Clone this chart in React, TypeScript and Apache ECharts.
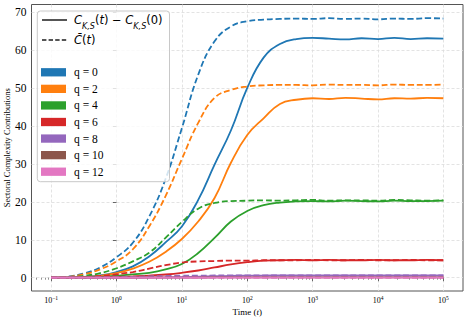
import React, { useEffect, useRef } from 'react';
import * as echarts from 'echarts';

// log10(t) sample positions
const logT = [-1, -0.75, -0.5, -0.25, 0, 0.25, 0.5, 0.75, 1, 1.25, 1.5, 1.75, 2, 2.25, 2.5, 2.75, 3, 3.25, 3.5, 3.75, 4, 4.25, 4.5, 4.75, 5];

// C_{K,S}(t) - C_{K,S}(0)  (solid)
const q0Solid = [0, 0.05, 0.2, 0.6, 1.5, 3.0, 5.6, 9.3, 13.5, 20.5, 29.8, 38.8, 50.0, 58.0, 61.6, 62.9, 63.2, 63.0, 62.8, 63.1, 62.9, 63.2, 62.9, 63.1, 63.0];
const q2Solid = [0, 0.05, 0.15, 0.5, 1.2, 2.4, 4.2, 6.8, 10.2, 14.8, 21.0, 30.3, 37.6, 42.0, 45.8, 46.9, 47.3, 47.1, 47.4, 47.2, 47.0, 47.3, 47.2, 47.4, 47.3];
const q4Solid = [0, 0.02, 0.05, 0.2, 0.5, 0.9, 1.3, 2.2, 3.6, 6.5, 10.5, 14.8, 17.6, 19.1, 19.8, 20.1, 20.2, 20.1, 20.3, 20.2, 20.1, 20.3, 20.2, 20.2, 20.3];
const q6Solid = [0, 0, 0.02, 0.08, 0.2, 0.35, 0.55, 0.85, 1.3, 1.9, 2.7, 3.5, 4.1, 4.5, 4.6, 4.7, 4.6, 4.7, 4.6, 4.6, 4.7, 4.6, 4.6, 4.7, 4.6];
const q8Solid = [0, 0, 0, 0.01, 0.02, 0.04, 0.07, 0.12, 0.2, 0.3, 0.4, 0.48, 0.54, 0.57, 0.58, 0.58, 0.59, 0.58, 0.58, 0.59, 0.58, 0.58, 0.59, 0.58, 0.58];
const q10Solid = [0, 0, 0, 0, 0, 0.01, 0.01, 0.02, 0.03, 0.05, 0.07, 0.08, 0.09, 0.1, 0.1, 0.1, 0.1, 0.1, 0.1, 0.1, 0.1, 0.1, 0.1, 0.1, 0.1];
const q12Solid = [0, 0, 0, 0, 0, 0, 0, 0, 0.01, 0.01, 0.01, 0.02, 0.02, 0.02, 0.02, 0.02, 0.02, 0.02, 0.02, 0.02, 0.02, 0.02, 0.02, 0.02, 0.02];

// C-bar(t)  (dashed)
const q0Dashed = [0, 0.3, 1.1, 2.7, 5.4, 9.2, 16.1, 26.0, 39.4, 53.5, 62.3, 66.2, 67.6, 68.0, 68.2, 68.3, 68.2, 68.4, 68.2, 68.3, 68.1, 68.3, 68.2, 68.4, 68.3];
const q2Dashed = [0, 0.2, 0.9, 2.2, 4.3, 7.5, 13.5, 21.5, 31.3, 40.8, 47.4, 49.5, 50.4, 50.7, 50.8, 50.8, 50.7, 50.9, 50.8, 50.8, 50.7, 50.9, 50.8, 50.8, 50.9];
const q4Dashed = [0, 0.1, 0.5, 1.2, 2.5, 4.3, 6.6, 10.5, 14.7, 18.2, 19.7, 20.2, 20.3, 20.4, 20.3, 20.4, 20.5, 20.3, 20.4, 20.4, 20.3, 20.5, 20.4, 20.3, 20.4];
const q6Dashed = [0, 0.05, 0.2, 0.45, 0.9, 1.5, 2.4, 3.3, 4.0, 4.3, 4.4, 4.5, 4.5, 4.6, 4.6, 4.6, 4.7, 4.6, 4.6, 4.7, 4.6, 4.6, 4.7, 4.6, 4.6];
const q8Dashed = [0, 0.01, 0.03, 0.07, 0.14, 0.24, 0.35, 0.45, 0.52, 0.56, 0.58, 0.59, 0.59, 0.59, 0.6, 0.59, 0.59, 0.6, 0.59, 0.59, 0.6, 0.59, 0.59, 0.6, 0.59];
const q10Dashed = [0, 0, 0.01, 0.02, 0.03, 0.05, 0.07, 0.08, 0.09, 0.1, 0.1, 0.1, 0.1, 0.1, 0.1, 0.1, 0.1, 0.1, 0.1, 0.1, 0.1, 0.1, 0.1, 0.1, 0.1];
const q12Dashed = [0, 0, 0, 0, 0.01, 0.01, 0.01, 0.02, 0.02, 0.02, 0.02, 0.02, 0.02, 0.02, 0.02, 0.02, 0.02, 0.02, 0.02, 0.02, 0.02, 0.02, 0.02, 0.02, 0.02];

const qLabels = ['q = 0', 'q = 2', 'q = 4', 'q = 6', 'q = 8', 'q = 10', 'q = 12'];
const solidSeries = [q0Solid, q2Solid, q4Solid, q6Solid, q8Solid, q10Solid, q12Solid];
const dashedSeries = [q0Dashed, q2Dashed, q4Dashed, q6Dashed, q8Dashed, q10Dashed, q12Dashed];
const colors = ['#1f77b4', '#ff7f0e', '#2ca02c', '#d62728', '#9467bd', '#8c564b', '#e377c2'];

const xMajorTicks = [-1, 0, 1, 2, 3, 4, 5];
const yTicks = [0, 10, 20, 30, 40, 50, 60, 70];
const minorDecades = [-2, -1, 0, 1, 2, 3, 4, 5];
const minorMults = [2, 3, 4, 5, 6, 7, 8, 9];

const X_MIN = -1.3;
const X_MAX = 5.3;
const Y_MIN = -3.5;
const Y_MAX = 72;

const SERIF = 'Liberation Serif';
const MATH = 'DejaVu Sans';

export default function App() {
  const ref = useRef<HTMLDivElement>(null);

  useEffect(() => {
    if (!ref.current) return;
    const chart = echarts.init(ref.current, undefined, { renderer: 'svg' });

    const minorTicks: number[] = [];
    minorDecades.forEach((d) =>
      minorMults.forEach((m) => {
        const v = d + Math.log10(m);
        if (v > X_MIN && v < X_MAX) minorTicks.push(v);
      })
    );

    const gridPos = { left: 31.5, right: 5, top: 4.5, bottom: 31, containLabel: false, outerBoundsMode: 'none' };
    const gridLine = { color: '#dcdcdc', width: 0.8, type: [3, 2] as number[] };

    const series: any[] = [];
    solidSeries.forEach((vals, i) => {
      series.push({
        type: 'line',
        name: qLabels[i],
        data: logT.map((x, j) => [x, vals[j]]),
        symbol: 'none',
        smooth: 0.45,
        color: colors[i],
        lineStyle: { width: 1.8, color: colors[i] },
        z: 2,
      });
      series.push({
        type: 'line',
        name: qLabels[i],
        data: logT.map((x, j) => [x, dashedSeries[i][j]]),
        symbol: 'none',
        smooth: 0.45,
        color: colors[i],
        lineStyle: { width: 1.8, color: colors[i], type: [6, 2.8] },
        z: 2,
      });
    });
    series.push({
      type: 'line',
      name: 'solidKey',
      data: [],
      symbol: 'none',
      color: '#555',
      lineStyle: { width: 1.2, color: '#555' },
    });
    series.push({
      type: 'line',
      name: 'dashKey',
      data: [],
      symbol: 'none',
      color: '#555',
      lineStyle: { width: 1.2, color: '#555', type: [4.4, 2.2] },
    });

    const mathRich = {
      i: { fontFamily: MATH, fontStyle: 'italic', fontSize: 11.5, color: '#000', lineHeight: 20 },
      n: { fontFamily: MATH, fontSize: 11.5, color: '#000', lineHeight: 20 },
      s: { fontFamily: MATH, fontStyle: 'italic', fontSize: 8, color: '#000', lineHeight: 14, verticalAlign: 'bottom' },
    };

    chart.setOption({
      animation: false,
      backgroundColor: '#fff',
      grid: [
        { ...gridPos, show: true, borderColor: '#555', borderWidth: 1, backgroundColor: '#fff' },
        { ...gridPos, show: false },
      ],
      xAxis: [
        {
          type: 'value',
          gridIndex: 0,
          min: X_MIN,
          max: X_MAX,
          axisLine: { show: false },
          axisTick: { show: true, customValues: xMajorTicks, length: 3.5, lineStyle: { color: '#444', width: 0.8 } },
          axisLabel: {
            customValues: xMajorTicks,
            margin: 4,
            formatter: (v: number) => `{b|10}{s|${v < 0 ? '\u2212' : ''}${Math.abs(Math.round(v))}}`,
            rich: {
              b: { fontFamily: SERIF, fontSize: 8, color: '#000', lineHeight: 10 },
              s: { fontFamily: SERIF, fontSize: 5.5, color: '#000', lineHeight: 6, verticalAlign: 'top' },
            },
          },
          splitLine: { show: true, lineStyle: gridLine },
          name: '{n|Time (}{i|t}{n|)}',
          nameLocation: 'middle',
          nameGap: 16,
          nameMoveOverlap: false,
          nameTextStyle: {
            rich: {
              n: { fontFamily: SERIF, fontSize: 9, color: '#000' },
              i: { fontFamily: SERIF, fontSize: 9, fontStyle: 'italic', color: '#000' },
            },
          },
        },
        {
          type: 'value',
          gridIndex: 1,
          min: X_MIN,
          max: X_MAX,
          axisLine: { show: false },
          axisTick: { show: true, customValues: minorTicks, length: 2, lineStyle: { color: '#444', width: 0.6 } },
          axisLabel: { show: false },
          splitLine: { show: false },
        },
      ],
      yAxis: [
        {
          type: 'value',
          gridIndex: 0,
          min: Y_MIN,
          max: Y_MAX,
          axisLine: { show: false },
          axisTick: { show: true, customValues: yTicks, length: 3.5, lineStyle: { color: '#444', width: 0.8 } },
          axisLabel: { customValues: yTicks, margin: 5, fontFamily: SERIF, fontSize: 11.5, color: '#000' },
          splitLine: { show: true, lineStyle: gridLine },
          name: 'Sectoral Complexity Contributions',
          nameLocation: 'middle',
          nameGap: 20,
          nameMoveOverlap: false,
          nameTextStyle: { fontFamily: SERIF, fontSize: 8.5, color: '#000' },
        },
        {
          type: 'value',
          gridIndex: 1,
          min: Y_MIN,
          max: Y_MAX,
          show: false,
        },
      ],
      legend: [
        {
          data: qLabels.map((n) => ({ name: n, icon: 'rect' })),
          orient: 'vertical',
          left: 37.3,
          top: 11,
          padding: [53, 66, 1.7, 3.7],
          backgroundColor: 'rgba(255,255,255,0.8)',
          borderColor: '#c8c8c8',
          borderWidth: 1,
          borderRadius: 3,
          itemWidth: 25,
          itemHeight: 8.3,
          itemGap: 0,
          selectedMode: false,
          itemStyle: { borderWidth: 0 },
          textStyle: { fontFamily: SERIF, fontSize: 11.5, color: '#000', lineHeight: 16.57, padding: [0, 0, 0, 3] },
          z: 5,
        },
        {
          data: [
            { name: 'solidKey', itemStyle: { opacity: 0 } },
            { name: 'dashKey', itemStyle: { opacity: 0 } },
          ],
          orient: 'vertical',
          left: 41,
          top: 10,
          padding: 0,
          itemWidth: 25,
          itemHeight: 14,
          itemGap: 0,
          selectedMode: false,
          formatter: (name: string) =>
            name === 'solidKey'
              ? '{i|C}{s|K,S}{n|(}{i|t}{n|) \u2212 }{i|C}{s|K,S}{n|(0)}'
              : '{i|C\u0304}{n|(}{i|t}{n|)}',
          textStyle: { lineHeight: 20, padding: [0, 0, 0, 2], rich: mathRich },
          z: 6,
        },
      ],
      series,
    });

    return () => chart.dispose();
  }, []);

  return <div ref={ref} style={{ width: 468, height: 322, position: 'absolute', left: 0, top: 0 }} />;
}
